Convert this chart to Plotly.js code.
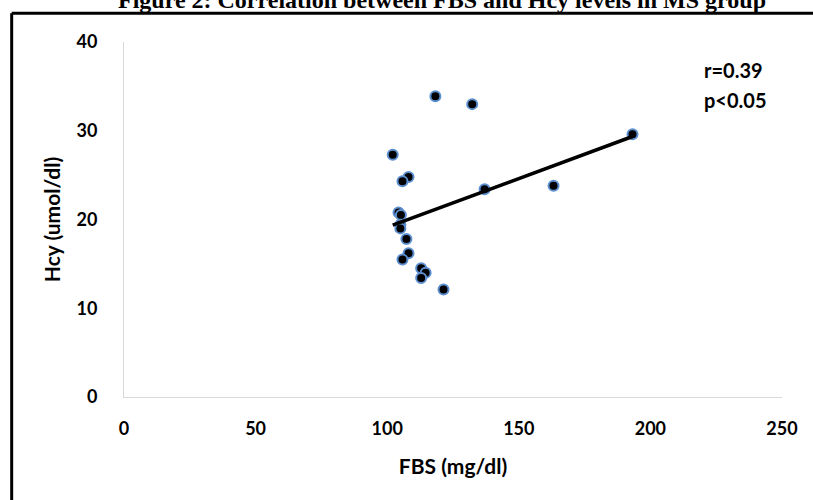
<!DOCTYPE html>
<html>
<head>
<meta charset="utf-8">
<script src="https://cdn.plot.ly/plotly-3.0.1.min.js"></script>
<style>
html,body{margin:0;padding:0;background:#fff;}
#chart{width:813px;height:500px;}
</style>
</head>
<body>
<div id="chart"></div>
<script>
// FBS (mg/dl) values
const fbs = [118.3, 132.3, 102.1, 108.1, 105.8, 137.0, 163.2, 104.3, 105.2, 105.0, 105.0, 107.3, 108.1, 105.8, 112.9, 114.6, 112.9, 121.4, 193.2];
// Hcy (umol/dl) values
const hcy = [33.9, 33.0, 27.3, 24.8, 24.3, 23.4, 23.8, 20.8, 20.5, 19.4, 19.0, 17.8, 16.2, 15.5, 14.5, 14.0, 13.4, 12.1, 29.6];
const xTicks = [0, 50, 100, 150, 200, 250];
const yTicks = [0, 10, 20, 30, 40];
const titleText = 'Figure 2: Correlation between FBS and Hcy levels in MS group';
const statText = ['r=0.39', 'p&lt;0.05'];

// linear trendline (least squares) from the data
const n = fbs.length;
const mx = fbs.reduce((a, b) => a + b, 0) / n;
const my = hcy.reduce((a, b) => a + b, 0) / n;
let sxy = 0, sxx = 0;
for (let i = 0; i < n; i++) { sxy += (fbs[i] - mx) * (hcy[i] - my); sxx += (fbs[i] - mx) ** 2; }
const slope = sxy / sxx;
const intercept = my - slope * mx;
const xMin = Math.min(...fbs), xMax = Math.max(...fbs);
const trendX = [xMin, xMax];
const trendY = trendX.map(v => intercept + slope * v);

const tickFont = {family: 'Lato, sans-serif', size: 18, color: '#000', weight: 'bold'};
const titleFont = {family: 'Lato, sans-serif', size: 21, color: '#000', weight: 'bold'};

const data = [
  {
    x: fbs, y: hcy, type: 'scatter', mode: 'markers',
    marker: {color: '#000', size: 10, line: {color: '#5b8fcf', width: 2}},
    hoverinfo: 'x+y', showlegend: false
  },
  {
    x: trendX, y: trendY, type: 'scatter', mode: 'lines',
    line: {color: '#000', width: 3.5}, hoverinfo: 'skip', showlegend: false
  }
];

const layout = {
  width: 813, height: 500,
  margin: {l: 124, r: 31, t: 42, b: 103},
  paper_bgcolor: '#fff', plot_bgcolor: '#fff',
  showlegend: false,
  xaxis: {
    range: [0, 250], tickvals: xTicks, ticktext: xTicks.map(String),
    showgrid: false, zeroline: false, showline: true, linecolor: '#d9d9d9', linewidth: 1,
    ticks: '', ticklabelstandoff: 15, tickfont: tickFont,
    title: {text: 'FBS (mg/dl)', font: titleFont, standoff: 21},
    fixedrange: true
  },
  yaxis: {
    range: [0, 40], tickvals: yTicks, ticktext: yTicks.map(String),
    showgrid: false, zeroline: false, showline: true, linecolor: '#d9d9d9', linewidth: 1,
    ticks: '', ticklabelstandoff: 22, tickfont: tickFont,
    title: {text: 'Hcy (umol/dl)', font: titleFont, standoff: 10},
    fixedrange: true
  },
  annotations: [
    {text: titleText, xref: 'paper', yref: 'paper', x: 0.484, y: 1.119,
     xanchor: 'center', yanchor: 'middle', showarrow: false,
     font: {family: '"Liberation Serif", "Times New Roman", serif', size: 24, color: '#000', weight: 'bold'}},
    {text: statText[0], xref: 'x', yref: 'y', x: 219.5, y: 36.85, xanchor: 'left', yanchor: 'middle',
     showarrow: false, font: {family: 'Lato, sans-serif', size: 20, color: '#000', weight: 'bold'}},
    {text: statText[1], xref: 'x', yref: 'y', x: 219.5, y: 33.46, xanchor: 'left', yanchor: 'middle',
     showarrow: false, font: {family: 'Lato, sans-serif', size: 20, color: '#000', weight: 'bold'}}
  ],
  shapes: [
    {type: 'line', xref: 'paper', yref: 'paper', x0: -0.1707, x1: -0.1707, y0: 1.0808, y1: -0.30,
     line: {color: '#000', width: 3}},
    {type: 'line', xref: 'paper', yref: 'paper', x0: -0.1707, x1: 1.06, y0: 1.0808, y1: 1.0808,
     line: {color: '#000', width: 3}}
  ]
};

Plotly.newPlot('chart', data, layout, {displayModeBar: false, staticPlot: true});
</script>
</body>
</html>
